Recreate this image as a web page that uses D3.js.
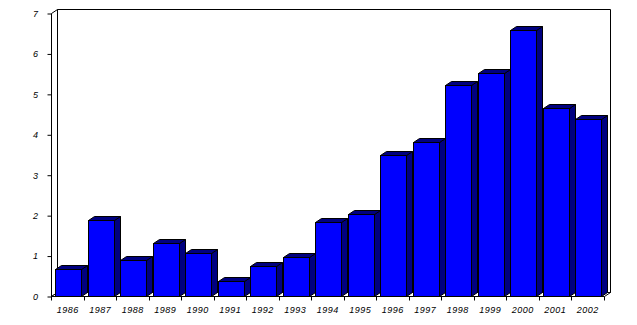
<!DOCTYPE html>
<html>
<head>
<meta charset="utf-8">
<script src="https://cdn.jsdelivr.net/npm/d3@7/dist/d3.min.js"></script>
<style>
  body { margin: 0; background: #fff; }
  svg text { font-family: "Liberation Sans", Arial, sans-serif; font-style: italic; font-size: 9px; fill: #000; letter-spacing: 0.5px; }
</style>
</head>
<body>
<div id="card"></div>
<script>
  // chart data
  const years = ["1986","1987","1988","1989","1990","1991","1992","1993","1994",
                 "1995","1996","1997","1998","1999","2000","2001","2002"];
  const values = [0.68, 1.89, 0.90, 1.31, 1.07, 0.38, 0.75, 0.97, 1.84,
                  2.04, 3.48, 3.82, 5.21, 5.51, 6.57, 4.64, 4.39];
  const yTicks = [0, 1, 2, 3, 4, 5, 6, 7];

  const w = 637;
  const h = 325;
  // 3d depth offset
  const dx = 6, dy = 4;

  const svg = d3.select("#card")
                .append("svg")
                  .attr("width", w)
                  .attr("height", h);

  const x = d3.scaleBand()
                .domain(years)
                .range([51.5, 604]);

  const y = d3.scaleLinear()
                .domain([0, 7])
                .range([296.5, 13.5]);

  const x0 = x.range()[0], x1 = x.range()[1];
  const yb = y(0), yt = y(7);
  const px = v => Math.round(v - 0.5) + 0.5;

  //walls and floor
  const walls = svg.append("g").attr("fill", "#fff").attr("stroke", "#000").attr("stroke-width", 1);
  // back wall
  walls.append("path")
    .attr("d", `M${x0+dx},${yb-dy}V${yt-dy}H${px(x1)+dx}V${yb-dy}Z`);
  // left wall
  walls.append("path")
    .attr("d", `M${x0},${yb}V${yt}L${x0+dx},${yt-dy}V${yb-dy}Z`);
  // floor
  walls.append("path")
    .attr("d", `M${x0},${yb}H${px(x1)}L${px(x1)+dx},${yb-dy}H${x0+dx}Z`);

  //y axis
  const yAxis = d3.axisLeft(y).tickValues(yTicks).tickFormat(d3.format("d")).tickSize(4).tickPadding(9);
  const gy = svg.append("g")
    .attr("transform", `translate(${x0},0)`)
    .call(yAxis);
  gy.select(".domain").remove();
  gy.selectAll("text").attr("font-size", null).attr("font-family", null);

  //x axis ticks at the category borders
  svg.append("g")
    .selectAll("line")
    .data(years.concat(["end"]))
    .enter()
      .append("line")
      .attr("x1", d => px(d === "end" ? x1 : x(d)))
      .attr("x2", d => px(d === "end" ? x1 : x(d)))
      .attr("y1", yb)
      .attr("y2", yb + 4)
      .attr("stroke", "#000");

  const xAxis = d3.axisBottom(x).tickSize(0).tickPadding(10);
  const gx = svg.append("g")
    .attr("transform", `translate(0,${yb})`)
    .call(xAxis);
  gx.select(".domain").remove();
  gx.selectAll("text").attr("font-size", null).attr("font-family", null);

  //bars
  const data = years.map((d, i) => ({year: d, value: values[i]}));
  const bw = 26, off = 4;

  const bars = svg.append("g")
    .attr("stroke", "#000")
    .attr("stroke-width", 1)
    .attr("stroke-linejoin", "miter")
    .selectAll(".bar")
    .data(data)
    .enter()
      .append("g")
      .classed("bar", true);

  // side face
  bars.append("path")
    .attr("fill", "#000080")
    .attr("d", d => {
      const l = px(x(d.year) + off), r = l + bw, t = px(y(d.value));
      return `M${r},${yb}V${t}L${r+dx},${t-dy}V${yb-dy}Z`;
    });
  // top face
  bars.append("path")
    .attr("fill", "#000080")
    .attr("d", d => {
      const l = px(x(d.year) + off), r = l + bw, t = px(y(d.value));
      return `M${l},${t}L${l+dx},${t-dy}H${r+dx}L${r},${t}Z`;
    });
  // front face
  bars.append("rect")
    .attr("fill", "#0000ff")
    .attr("x", d => px(x(d.year) + off))
    .attr("y", d => px(y(d.value)))
    .attr("width", bw)
    .attr("height", d => yb - px(y(d.value)));
</script>
</body>
</html>
